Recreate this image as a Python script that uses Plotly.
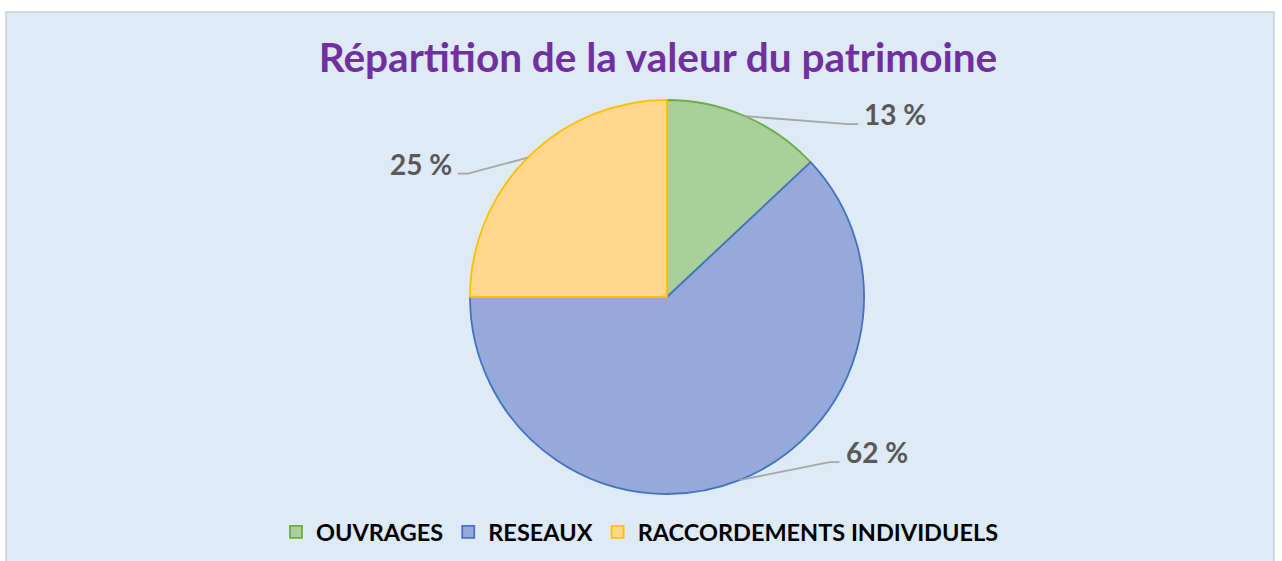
import math
import plotly.graph_objects as go

# ---- data ----
categories = ["OUVRAGES", "RESEAUX", "RACCORDEMENTS INDIVIDUELS"]
values = [13, 62, 25]
label_texts = ["13 %", "62 %", "25 %"]

# ---- style ----
fills = ["#A9D09A", "#95A9DB", "#FFD88E"]
borders = ["#70AD47", "#4472C4", "#FFC000"]
BG = "#DEEAF6"
W, H = 1282, 561
ML, MR, MT, MB = 6, 8, 12, 0
PW, PH = W - ML - MR, H - MT - MB
CX, CY, R = 667, 297, 197  # pie centre / radius in pixels (layout)
# leader line end offsets (px) from slice edge (layout/styling)
leader = [(113, 8), (100, -18), (-70, 16)]

def px2paper(x, y):
    return (x - ML) / PW, (H - MB - y) / PH

dx0, dy0 = px2paper(CX - R, CY + R)
dx1, dy1 = px2paper(CX + R, CY - R)

fig = go.Figure(go.Pie(
    labels=categories, values=values, sort=False, direction="clockwise",
    rotation=0, textinfo="none", hoverinfo="label+percent",
    marker=dict(colors=fills, line=dict(color=borders, width=1.8)),
    domain=dict(x=[dx0, dx1], y=[dy0, dy1]),
))

shapes = [dict(type="rect", xref="paper", yref="paper", x0=0, x1=1, y0=-0.01, y1=1,
               fillcolor=BG, line=dict(color="#D0D0D0", width=1.5), layer="below")]
annotations = []
total = sum(values)
cum = 0
for i, v in enumerate(values):
    mid = (cum + v / 2) / total * 2 * math.pi
    cum += v
    ex, ey = CX + R * math.sin(mid), CY - R * math.cos(mid)
    ox, oy = leader[i]
    lx, ly = ex + ox, ey + oy
    side = 1 if ox > 0 else -1
    pts = [px2paper(ex, ey), px2paper(lx - side * 10, ly), px2paper(lx, ly)]
    path = "M {} {} L {} {} L {} {}".format(pts[0][0], pts[0][1], pts[1][0], pts[1][1], pts[2][0], pts[2][1])
    shapes.append(dict(type="path", xref="paper", yref="paper", path=path,
                       line=dict(color="#A6A6A6", width=1.8)))
    tx, ty = px2paper(lx + side * 4, ly - 10)
    annotations.append(dict(x=tx, y=ty, xref="paper", yref="paper", text=label_texts[i],
                            showarrow=False, xanchor="left" if side > 0 else "right",
                            yanchor="middle",
                            font=dict(family="Lato", size=28, color="#595959", weight="bold")))

fig.update_layout(
    width=W, height=H,
    margin=dict(l=ML, r=MR, t=MT, b=MB),
    paper_bgcolor="white", plot_bgcolor=BG,
    title=dict(text="<b>Répartition de la valeur du patrimoine</b>", x=658 / W, xanchor="center",
               xref="container", y=1 - 58 / H, yanchor="middle", yref="container",
               font=dict(family="Lato", size=40.5, color="#7030A0")),
    showlegend=True,
    legend=dict(orientation="h", x=0.5, xanchor="center", y=(H - 532) / PH, yanchor="middle",
                font=dict(family="Lato", size=23.5, color="#000000", weight="bold"),
                bgcolor="rgba(0,0,0,0)", itemwidth=30, traceorder="normal"),
    shapes=shapes, annotations=annotations,
)

fig.write_html("out.html", config={"displayModeBar": False},
               post_script="document.body.style.margin='0';document.body.style.overflow='hidden';")
